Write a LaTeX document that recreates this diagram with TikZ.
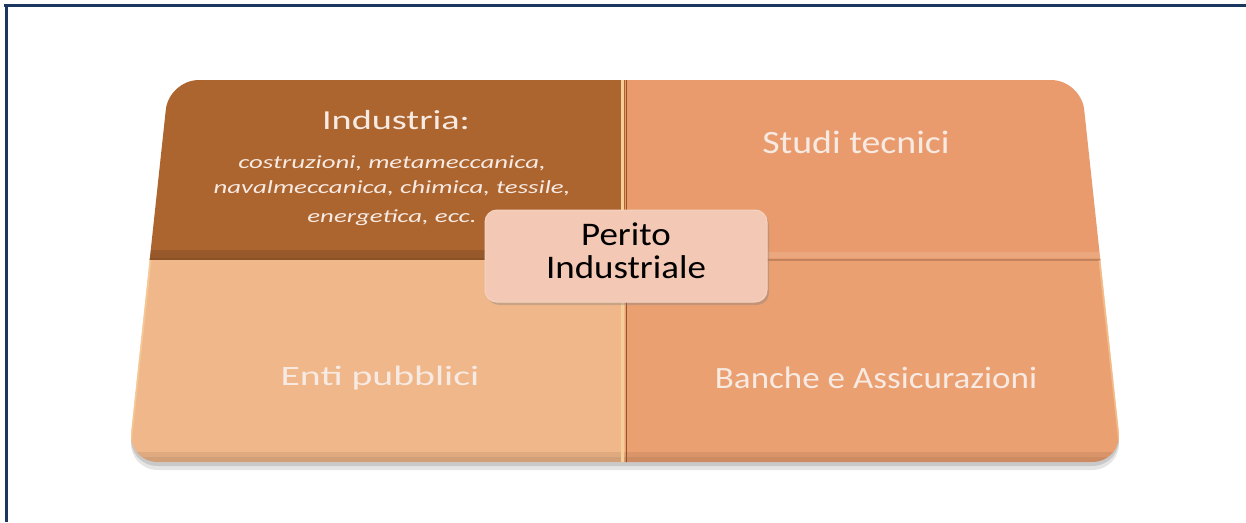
\documentclass[tikz,border=0pt]{standalone}
\usepackage{fontspec}
\usepackage{graphicx}
\setmainfont{Carlito}
\usetikzlibrary{shadows}
\definecolor{frameC}{HTML}{1B365F}
\definecolor{qTL}{HTML}{AD6530}
\definecolor{qTR}{HTML}{E99B6D}
\definecolor{qBL}{HTML}{F0B78A}
\definecolor{qBR}{HTML}{EBA072}
\definecolor{centerC}{HTML}{F3C8B4}
\definecolor{lightT}{HTML}{F7EAE2}
\definecolor{hiC}{HTML}{F8CE98}
\tikzset{
  qtext/.style={text=lightT, inner sep=0pt, align=center},
  ctext/.style={text=black, inner sep=0pt, align=center},
}
\newcommand{\fsz}[2]{\fontsize{#1}{#2}\selectfont}
\begin{document}
\begin{tikzpicture}[x=1pt,y=-1pt]
\fill[white] (0,0) rectangle (1246,522);
\useasboundingbox (0,0) rectangle (1246,522);
% frame (top and left visible)
\fill[frameC] (4,4) rectangle (1246,7);
\fill[frameC] (5,4) rectangle (8,522);
% shadow under the board
\fill[black,opacity=0.10,rounded corners=30] (169,88) -- (1081,88) -- (1122,470) -- (128,470) -- cycle;
\fill[black,opacity=0.12,rounded corners=30] (169,85) -- (1081,85) -- (1122,466) -- (128,466) -- cycle;
% quadrants
\begin{scope}
\clip[rounded corners=30] (169,80) -- (1081,80) -- (1122,462) -- (128,462) -- cycle;
\fill[qTL] (0,0) rectangle (625,260);
\fill[qTR] (625,0) rectangle (1246,260);
\fill[qBL] (0,260) rectangle (625,522);
\fill[qBR] (625,260) rectangle (1246,522);
% bottom rim shading
\fill[black,opacity=0.07] (0,452) rectangle (1246,462);
\fill[black,opacity=0.06] (0,457) rectangle (1246,462);
% dividers
\fill[black,opacity=0.12] (0,250) rectangle (625,258);
\draw[line width=2pt,color=qTL!80!black] (0,259) -- (625,259);
\fill[white,opacity=0.12] (625,252) rectangle (1246,258);
\draw[line width=2.5pt,color=qBR!82!black] (625,260) -- (1246,260);
\draw[line width=3pt,color=hiC] (622,0) -- (622,522);
\draw[line width=1pt,color=qTL!85!black] (626.5,0) -- (626.5,522);
% edge highlights
\draw[line width=3pt,color=hiC,opacity=0.7] (128,462) -- (150,260);
\draw[line width=3pt,color=hiC,opacity=0.6] (1122,462) -- (1100,260);
\end{scope}
% center node
\node[draw=centerC!80!white, line width=1pt, fill=centerC, rounded corners=12,
      minimum width=282pt, minimum height=92pt,
      drop shadow={shadow xshift=2pt, shadow yshift=-3pt, opacity=0.35}] (center) at (626,256) {};
\node[ctext] (centerT) at (626,255.5) {\scalebox{1.12}[1]{\fsz{33}{33}\begin{tabular}{@{}c@{}}Perito\\Industriale\end{tabular}}};
% quadrant texts
\node[qtext] (ind) at (396,120) {\scalebox{1.39}[1]{\fsz{27.5}{30}Industria:}};
\node[qtext] (indsub) at (392,190) {\scalebox{1.45}[1]{\fsz{18.5}{25}\itshape\begin{tabular}{@{}c@{}}costruzioni, metameccanica,\\navalmeccanica, chimica, tessile,\\[4pt]energetica, ecc.\end{tabular}}};
\node[qtext] (studi) at (856,142) {\scalebox{1.16}[1]{\fsz{32.6}{36}Studi tecnici}};
\node[qtext] (enti) at (380,378) {\scalebox{1.42}[1]{\fsz{28}{32}Enti pubblici}};
\node[qtext] (banche) at (876,378) {\scalebox{1.13}[1]{\fsz{31}{34}Banche e Assicurazioni}};
\end{tikzpicture}
\end{document}
